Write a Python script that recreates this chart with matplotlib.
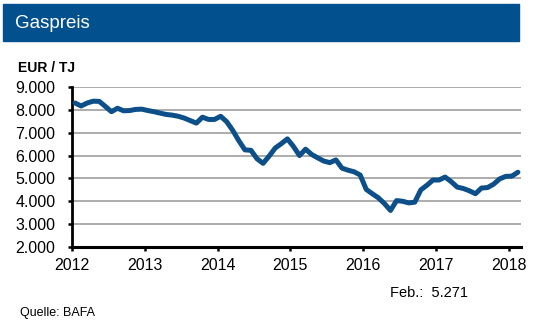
import numpy as np
import matplotlib.pyplot as plt
from matplotlib.patches import Rectangle

# Monatswerte Gaspreis (EUR/TJ), Jan 2012 bis Feb 2018
start_year = 2012
preise = [
    8300, 8170, 8300, 8380, 8370, 8150, 7920, 8070, 7960, 7970, 8020, 8030,  # 2012
    7970, 7920, 7860, 7800, 7770, 7720, 7640, 7530, 7420, 7680, 7580, 7580,  # 2013
    7720, 7480, 7100, 6650, 6250, 6230, 5860, 5660, 5980, 6330, 6520, 6730,  # 2014
    6400, 6000, 6280, 6050, 5900, 5760, 5690, 5810, 5450, 5360, 5290, 5150,  # 2015
    4520, 4330, 4150, 3900, 3600, 4030, 4000, 3930, 3960, 4500, 4700, 4930,  # 2016
    4930, 5060, 4860, 4620, 4560, 4460, 4330, 4580, 4600, 4750, 4980, 5090,  # 2017
    5100, 5271,                                                              # 2018
]
jahre = [2012, 2013, 2014, 2015, 2016, 2017, 2018]
y_ticks = [2000, 3000, 4000, 5000, 6000, 7000, 8000, 9000]
y_labels = ['2.000', '3.000', '4.000', '5.000', '6.000', '7.000', '8.000', '9.000']

plt.rcParams['font.family'] = ['Liberation Sans', 'DejaVu Sans']

x = start_year + (np.arange(len(preise)) + 0.5) / 12

fig = plt.figure(figsize=(5.53, 3.27), dpi=100)

# Titelbalken
fig.patches.append(Rectangle((3 / 553, 1 - 41 / 327), 516 / 553, 37 / 327,
                             transform=fig.transFigure, color='#03508f', zorder=0))
fig.text(15 / 553, 1 - 23 / 327, 'Gaspreis', color='white', fontsize=13.5,
         va='center', ha='left')

ax = fig.add_axes([72 / 553, 1 - 247 / 327, 449 / 553, 160 / 327])
ax.plot(x, preise, color='#0d4f88', lw=3.6, solid_capstyle='round',
        solid_joinstyle='round', zorder=3, clip_on=False)

ax.set_xlim(2012, 2018 + 449 / 72.8 - 6)
ax.set_ylim(2000, 9000)
ax.set_xticks(jahre)
ax.set_xticklabels([str(j) for j in jahre])
ax.set_yticks(y_ticks)
ax.set_yticklabels(y_labels)

for v in y_ticks[1:]:
    ax.axhline(v, color='#acacac', lw=1.4, zorder=1)

for s in ['top', 'right']:
    ax.spines[s].set_visible(False)
ax.spines['left'].set_linewidth(2)
ax.spines['bottom'].set_linewidth(2.2)
ax.tick_params(axis='both', direction='out', length=3, width=1.8, labelsize=11.5,
               colors='black')
ax.tick_params(axis='y', pad=9)
ax.tick_params(axis='x', pad=5)

fig.text(18 / 553, 1 - 68 / 327, 'EUR / TJ', fontsize=10, fontweight='bold',
         va='center', ha='left')
fig.text(390 / 553, 1 - 293 / 327, 'Feb.:  5.271', fontsize=10.5,
         va='center', ha='left')
fig.text(20 / 553, 1 - 313 / 327, 'Quelle: BAFA', fontsize=9,
         va='center', ha='left')

fig.savefig('out.png', dpi=100)
